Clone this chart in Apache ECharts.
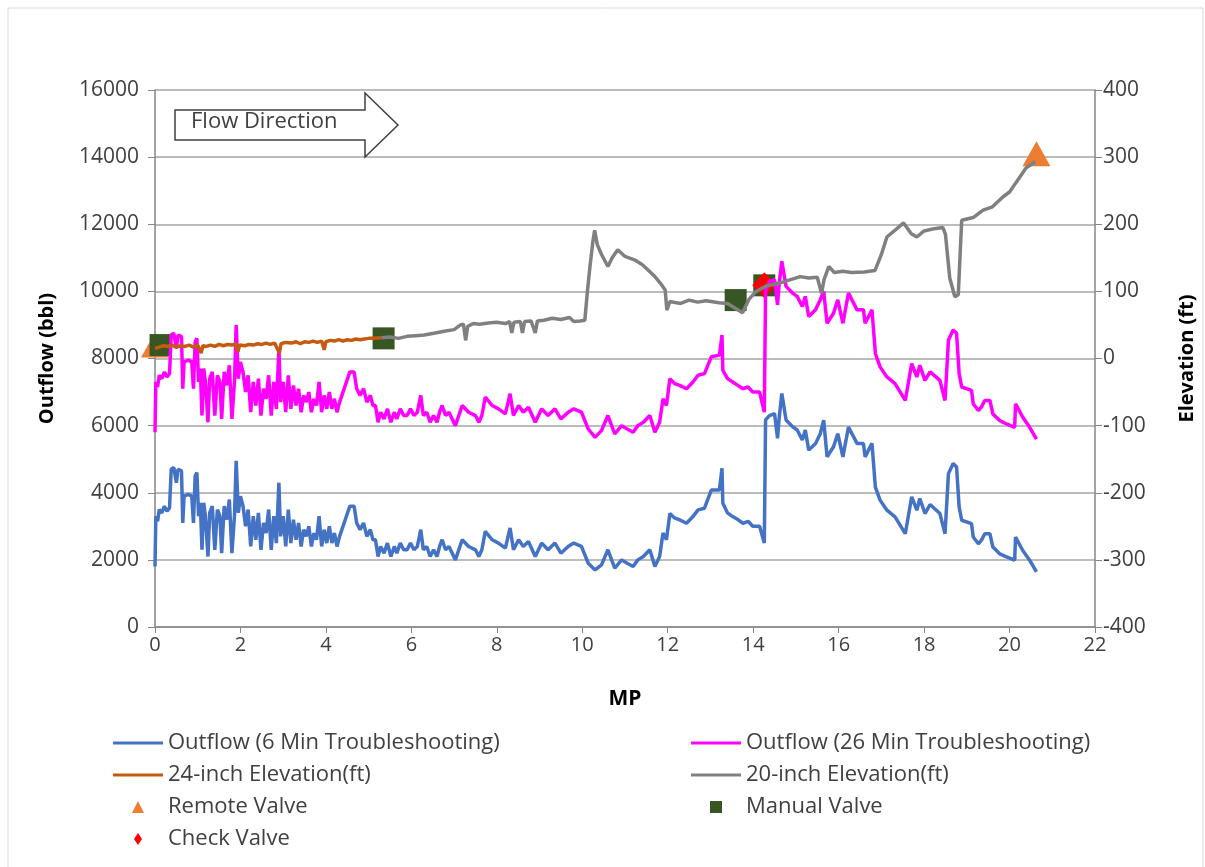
<!DOCTYPE html>
<html><head><meta charset="utf-8">
<script src="https://cdn.jsdelivr.net/npm/echarts@6/dist/echarts.min.js"></script>
<style>html,body{margin:0;padding:0;background:#fff}#c{width:1205px;height:867px}</style>
</head><body><div id="c"></div>
<script>
// ---- data ----
const out6 = [[0.00,1800],[0.02,3300],[0.06,3150],[0.10,3500],[0.16,3400],[0.22,3600],[0.28,3450],[0.34,3550],[0.38,4700],[0.44,4750],[0.50,4300],[0.54,4700],[0.62,4650],[0.65,3100],[0.68,3900],[0.78,3950],[0.86,3900],[0.90,3100],[0.94,4500],[0.98,4600],[1.02,3300],[1.06,3700],[1.10,2300],[1.14,3700],[1.18,3300],[1.24,2100],[1.28,3400],[1.34,3600],[1.40,2300],[1.46,3500],[1.52,3300],[1.56,2200],[1.62,3600],[1.68,3200],[1.74,3800],[1.80,2200],[1.86,3300],[1.90,4950],[1.95,3400],[2.00,3900],[2.06,3600],[2.12,3000],[2.18,3500],[2.24,2400],[2.30,3300],[2.36,2600],[2.42,3400],[2.48,2300],[2.54,3100],[2.60,2800],[2.66,3500],[2.72,2300],[2.78,3300],[2.84,2500],[2.90,4300],[2.94,2700],[3.00,3300],[3.06,2400],[3.12,3500],[3.18,2500],[3.24,3200],[3.30,2600],[3.36,3100],[3.42,2400],[3.48,2900],[3.54,2700],[3.60,3000],[3.66,2400],[3.72,2800],[3.78,2600],[3.84,3300],[3.90,2400],[3.96,2900],[4.02,2500],[4.08,3000],[4.14,2500],[4.20,2800],[4.26,2400],[4.32,2700],[4.40,3000],[4.48,3300],[4.56,3600],[4.66,3600],[4.72,3100],[4.80,2900],[4.88,3100],[4.96,2700],[5.04,2900],[5.10,2600],[5.16,2600],[5.22,2100],[5.28,2400],[5.36,2200],[5.44,2500],[5.52,2100],[5.60,2400],[5.66,2200],[5.74,2500],[5.82,2300],[5.90,2300],[5.98,2500],[6.06,2300],[6.14,2400],[6.22,2900],[6.28,2300],[6.36,2400],[6.44,2100],[6.52,2300],[6.60,2100],[6.66,2400],[6.72,2600],[6.80,2300],[6.88,2400],[7.03,2000],[7.19,2600],[7.34,2400],[7.50,2300],[7.58,2100],[7.65,2300],[7.73,2850],[7.77,2900],[7.89,2600],[8.04,2500],[8.20,2350],[8.31,2950],[8.39,2300],[8.51,2600],[8.62,2400],[8.74,2550],[8.90,2100],[9.05,2500],[9.20,2300],[9.36,2500],[9.50,2200],[9.67,2400],[9.80,2500],[9.98,2400],[10.14,1900],[10.30,1700],[10.45,1850],[10.60,2300],[10.76,1750],[10.92,2000],[11.05,1900],[11.19,1800],[11.30,2000],[11.43,2100],[11.58,2300],[11.70,1800],[11.81,2100],[11.89,2800],[11.97,2600],[12.05,3380],[12.16,3250],[12.28,3190],[12.44,3090],[12.59,3290],[12.71,3490],[12.86,3540],[13.02,4080],[13.21,4080],[13.27,4730],[13.29,3690],[13.40,3400],[13.52,3290],[13.64,3200],[13.76,3090],[13.88,3150],[13.99,3000],[14.15,3000],[14.26,2500],[14.29,6170],[14.38,6300],[14.50,6360],[14.57,5620],[14.61,6250],[14.67,6960],[14.77,6170],[14.92,5970],[15.03,5870],[15.15,5570],[15.22,5870],[15.30,5270],[15.46,5470],[15.57,5760],[15.65,6160],[15.73,5070],[15.88,5370],[15.98,5760],[16.10,5070],[16.23,5960],[16.43,5470],[16.58,5470],[16.62,5070],[16.78,5470],[16.86,4170],[16.97,3780],[17.13,3480],[17.32,3280],[17.56,2780],[17.71,3880],[17.83,3480],[17.90,3830],[18.02,3380],[18.14,3650],[18.37,3380],[18.49,2780],[18.57,4570],[18.68,4870],[18.76,4770],[18.82,3580],[18.88,3180],[19.11,3080],[19.15,2680],[19.27,2480],[19.34,2580],[19.42,2780],[19.54,2780],[19.61,2380],[19.77,2180],[19.93,2090],[20.12,1990],[20.14,2680],[20.31,2280],[20.47,1990],[20.63,1640]];

const out26 = [[0.00,5800],[0.02,7300],[0.06,7150],[0.10,7500],[0.16,7400],[0.22,7600],[0.28,7450],[0.34,7550],[0.38,8700],[0.44,8750],[0.50,8300],[0.54,8700],[0.62,8650],[0.65,7100],[0.68,7900],[0.78,7950],[0.86,7900],[0.90,7100],[0.94,8500],[0.98,8600],[1.02,7300],[1.06,7700],[1.10,6300],[1.14,7700],[1.18,7300],[1.24,6100],[1.28,7400],[1.34,7600],[1.40,6300],[1.46,7500],[1.52,7300],[1.56,6200],[1.62,7600],[1.68,7200],[1.74,7800],[1.80,6200],[1.86,7300],[1.90,9000],[1.95,7400],[2.00,7900],[2.06,7600],[2.12,7000],[2.18,7500],[2.24,6400],[2.30,7300],[2.36,6600],[2.42,7400],[2.48,6300],[2.54,7100],[2.60,6800],[2.66,7500],[2.72,6300],[2.78,7300],[2.84,6500],[2.90,8300],[2.94,6700],[3.00,7300],[3.06,6400],[3.12,7500],[3.18,6500],[3.24,7200],[3.30,6600],[3.36,7100],[3.42,6400],[3.48,6900],[3.54,6700],[3.60,7000],[3.66,6400],[3.72,6800],[3.78,6600],[3.84,7300],[3.90,6400],[3.96,6900],[4.02,6500],[4.08,7000],[4.14,6500],[4.20,6800],[4.26,6400],[4.32,6700],[4.40,7000],[4.48,7300],[4.56,7600],[4.66,7600],[4.72,7100],[4.80,6900],[4.88,7100],[4.96,6700],[5.04,6900],[5.10,6600],[5.16,6600],[5.22,6100],[5.28,6400],[5.36,6200],[5.44,6500],[5.52,6100],[5.60,6400],[5.66,6200],[5.74,6500],[5.82,6300],[5.90,6300],[5.98,6500],[6.06,6300],[6.14,6400],[6.22,6900],[6.28,6300],[6.36,6400],[6.44,6100],[6.52,6300],[6.60,6100],[6.66,6400],[6.72,6600],[6.80,6300],[6.88,6400],[7.03,6000],[7.19,6600],[7.34,6400],[7.50,6300],[7.58,6100],[7.65,6300],[7.73,6850],[7.77,6900],[7.89,6600],[8.04,6500],[8.20,6350],[8.31,6950],[8.39,6300],[8.51,6600],[8.62,6400],[8.74,6550],[8.90,6100],[9.05,6500],[9.20,6300],[9.36,6500],[9.50,6200],[9.67,6400],[9.80,6500],[9.98,6400],[10.14,5900],[10.30,5650],[10.45,5850],[10.60,6300],[10.76,5750],[10.92,6000],[11.05,5900],[11.19,5800],[11.30,6000],[11.43,6100],[11.58,6300],[11.70,5800],[11.81,6100],[11.89,6800],[11.97,6600],[12.05,7400],[12.16,7250],[12.28,7200],[12.44,7100],[12.59,7300],[12.71,7500],[12.86,7550],[13.02,8050],[13.21,8100],[13.27,8700],[13.29,7650],[13.40,7400],[13.52,7300],[13.64,7200],[13.76,7100],[13.88,7150],[13.99,7000],[14.15,7000],[14.26,6400],[14.29,10000],[14.38,10300],[14.50,10350],[14.57,9600],[14.61,10250],[14.67,10900],[14.77,10150],[14.92,9950],[15.03,9850],[15.15,9550],[15.22,9850],[15.30,9250],[15.46,9450],[15.57,9750],[15.65,10000],[15.73,9050],[15.88,9350],[15.98,9750],[16.10,9050],[16.23,9950],[16.43,9450],[16.58,9450],[16.62,9050],[16.78,9450],[16.86,8150],[16.97,7750],[17.13,7450],[17.32,7250],[17.56,6750],[17.71,7850],[17.83,7450],[17.90,7800],[18.02,7350],[18.14,7600],[18.37,7350],[18.49,6750],[18.57,8550],[18.68,8850],[18.76,8750],[18.82,7550],[18.88,7150],[19.11,7050],[19.15,6650],[19.27,6450],[19.34,6550],[19.42,6750],[19.54,6750],[19.61,6350],[19.77,6150],[19.93,6050],[20.12,5950],[20.14,6650],[20.31,6250],[20.47,5950],[20.63,5600]];

const elev24 = [[0.00,15],[0.10,17],[0.20,19],[0.30,18],[0.40,20],[0.50,17],[0.60,19],[0.70,18],[0.80,20],[0.90,17],[1.00,20],[1.08,8],[1.12,19],[1.20,18],[1.30,20],[1.40,18],[1.50,21],[1.60,19],[1.70,21],[1.80,20],[1.90,22],[1.94,10],[1.98,20],[2.10,19],[2.20,21],[2.30,20],[2.40,22],[2.50,21],[2.60,23],[2.70,21],[2.80,23],[2.91,8],[2.95,22],[3.05,24],[3.20,23],[3.30,25],[3.40,22],[3.50,25],[3.60,24],[3.70,26],[3.80,24],[3.90,26],[3.96,13],[4.00,25],[4.10,27],[4.20,26],[4.30,28],[4.40,26],[4.50,28],[4.60,27],[4.70,29],[4.80,28],[4.90,29],[5.00,30],[5.10,30],[5.30,31]];

const elev20 = [[5.30,31],[5.50,32],[5.70,30],[5.90,33],[6.10,34],[6.30,35],[6.56,38],[6.80,41],[7.00,43],[7.15,50],[7.22,51],[7.27,27],[7.32,48],[7.45,52],[7.60,51],[7.80,53],[8.00,54],[8.20,52],[8.30,55],[8.35,38],[8.40,54],[8.55,55],[8.60,38],[8.65,55],[8.80,56],[8.90,38],[8.95,56],[9.10,57],[9.30,60],[9.50,58],[9.70,61],[9.80,55],[9.95,56],[10.06,57],[10.12,100],[10.18,137],[10.25,175],[10.29,191],[10.35,170],[10.45,155],[10.60,137],[10.70,150],[10.83,162],[11.00,152],[11.22,147],[11.40,140],[11.52,133],[11.70,122],[11.83,112],[11.94,102],[11.98,72],[12.05,85],[12.30,82],[12.50,87],[12.70,84],[12.90,86],[13.20,83],[13.40,82],[13.75,68],[13.90,88],[14.05,99],[14.30,108],[14.60,112],[14.80,116],[15.10,122],[15.30,120],[15.50,121],[15.60,97],[15.66,118],[15.77,137],[15.90,128],[16.10,130],[16.30,128],[16.60,129],[16.85,131],[17.00,155],[17.13,181],[17.30,190],[17.52,202],[17.70,186],[17.83,181],[18.00,190],[18.20,193],[18.44,195],[18.50,185],[18.60,120],[18.72,92],[18.80,95],[18.88,206],[19.15,210],[19.38,221],[19.60,226],[19.85,241],[20.00,248],[20.15,262],[20.39,284],[20.60,293]];

const remoteValves = [[0.00,20],[20.63,305]];
const manualValves = [[0.13,20],[5.35,30],[13.59,87],[14.26,109]];
const checkValves = [[14.26,109]];

const FONT = 'Open Sans';
const TXT = '#404040';
const LINE_ICON = 'path://M0,0 L50,0 L50,3 L0,3 Z';
const TRI_ICON = 'path://M5,0 L10,10 L0,10 Z';
const SQ_ICON = 'path://M0,0 L10,0 L10,10 L0,10 Z';
const DIA_ICON = 'path://M4,0 L8,6 L4,12 L0,6 Z';
const plain = v => String(v);

const legendCommon = {orient:'vertical', top:732, itemWidth:50, itemHeight:12, itemGap:10, padding:0,
  symbolKeepAspect:true, textStyle:{fontFamily:FONT, fontSize:22, color:TXT}};

const chart = echarts.init(document.getElementById('c'), null, {renderer:'canvas'});
chart.setOption({
  animation:false,
  backgroundColor:'#fff',
  textStyle:{fontFamily:FONT},
  grid:{left:155, right:106, top:90, bottom:240, containLabel:false},
  xAxis:{type:'value', min:0, max:22, interval:2, name:'MP', nameLocation:'middle', nameGap:62,
    nameTextStyle:{fontFamily:FONT, fontWeight:'bold', fontSize:21, color:'#000'},
    axisLine:{lineStyle:{color:'#868686', width:1.5}}, axisTick:{show:true, length:6, lineStyle:{color:'#868686'}},
    axisLabel:{fontFamily:FONT, fontSize:20, color:TXT, margin:8, formatter:plain}, splitLine:{show:false}},
  yAxis:[
    {type:'value', min:0, max:16000, interval:2000, name:'Outflow (bbl)', nameLocation:'middle', nameGap:98, nameRotate:90,
      nameTextStyle:{fontFamily:FONT, fontWeight:'bold', fontSize:20, color:'#000'},
      axisLine:{show:true, lineStyle:{color:'#868686', width:1.5}}, axisTick:{show:true, length:7, lineStyle:{color:'#868686'}},
      axisLabel:{fontFamily:FONT, fontSize:21, color:TXT, margin:16, formatter:plain},
      splitLine:{show:true, lineStyle:{color:'#a6a6a6', width:1.5}}},
    {type:'value', min:-400, max:400, interval:100, name:'Elevation (ft)', nameLocation:'middle', nameGap:82, nameRotate:90,
      nameTextStyle:{fontFamily:FONT, fontWeight:'bold', fontSize:20, color:'#000'},
      axisLine:{show:true, lineStyle:{color:'#868686', width:1.5}}, axisTick:{show:true, length:7, lineStyle:{color:'#868686'}},
      axisLabel:{fontFamily:FONT, fontSize:21, color:TXT, margin:8, formatter:plain}, splitLine:{show:false}}
  ],
  legend:[
    Object.assign({left:113, data:[
      {name:'Outflow (6 Min Troubleshooting)', icon:LINE_ICON},
      {name:'24-inch Elevation(ft)', icon:LINE_ICON},
      {name:'Remote Valve', icon:TRI_ICON},
      {name:'Check Valve', icon:DIA_ICON}]}, legendCommon),
    Object.assign({left:691, data:[
      {name:'Outflow (26 Min Troubleshooting)', icon:LINE_ICON},
      {name:'20-inch Elevation(ft)', icon:LINE_ICON},
      {name:'Manual Valve', icon:SQ_ICON}]}, legendCommon)
  ],
  graphic:[
    {type:'rect', shape:{x:8, y:8, width:1195, height:880}, style:{fill:'none', stroke:'#d9d9d9', lineWidth:1}, silent:true, z:-1},
    {type:'polygon', shape:{points:[[175,110],[365,110],[365,93],[398,125],[365,157],[365,140],[175,140]]},
      style:{fill:'#fff', stroke:'#404040', lineWidth:1.5}, z:10},
    {type:'text', left:191, top:111, style:{text:'Flow Direction', font:'22px "Open Sans"', fill:TXT}, z:11}
  ],
  series:[
    {name:'Outflow (6 Min Troubleshooting)', type:'line', yAxisIndex:0, data:out6, showSymbol:false, symbol:'none',
      lineStyle:{color:'#4472C4', width:3.5}, itemStyle:{color:'#4472C4'}},
    {name:'Outflow (26 Min Troubleshooting)', type:'line', yAxisIndex:0, data:out26, showSymbol:false, symbol:'none',
      lineStyle:{color:'#FF00FF', width:3.5}, itemStyle:{color:'#FF00FF'}},
    {name:'24-inch Elevation(ft)', type:'line', yAxisIndex:1, data:elev24, showSymbol:false, symbol:'none',
      lineStyle:{color:'#C55A11', width:3.5}, itemStyle:{color:'#C55A11'}},
    {name:'20-inch Elevation(ft)', type:'line', yAxisIndex:1, data:elev20, showSymbol:false, symbol:'none',
      lineStyle:{color:'#808080', width:3.5}, itemStyle:{color:'#808080'}},
    {name:'Remote Valve', type:'scatter', yAxisIndex:1, data:remoteValves, symbol:'triangle', symbolSize:[28,25],
      itemStyle:{color:'#ED7D31', opacity:1}},
    {name:'Manual Valve', type:'scatter', yAxisIndex:1, data:manualValves, symbol:'rect', symbolSize:22,
      itemStyle:{color:'#375623', opacity:1}},
    {name:'Check Valve', type:'scatter', yAxisIndex:1, data:checkValves, symbol:'diamond', symbolSize:[24,26],
      itemStyle:{color:'#FF0000', opacity:1}}
  ]
});
</script></body></html>
